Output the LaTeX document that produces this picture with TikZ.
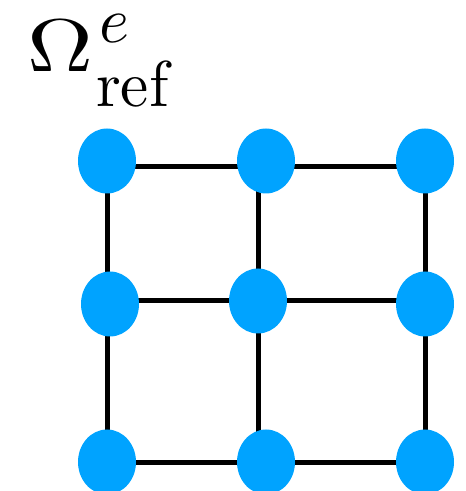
\documentclass[tikz,border=0pt]{standalone}
\usepackage{amsmath}
\usepackage{graphicx}
\usepackage{xcolor}
\usepackage{tikz}
\usetikzlibrary{shapes.geometric}
\definecolor{pblue}{HTML}{00A3FF}
% reference element label, Omega with e over ref
\newcommand{\reflabel}{%
  \resizebox{37.5pt}{29pt}{$\Omega$}\kern1.6pt
  \rlap{\raise16.5pt\hbox{\kern2pt\resizebox{17pt}{15.9pt}{$e$}}}%
  \lower19.9pt\hbox{\resizebox{44pt}{25.6pt}{$\mathrm{ref}$}}}
\tikzset{
  % Nodal point and the element edges between them.
  dof/.style      = {ellipse, fill=pblue, inner sep=0pt,
                     minimum width=1.16cm, minimum height=1.30cm},
  gridline/.style = {line width=0.10cm, black},
  lbl/.style      = {inner sep=0pt},
}

\begin{document}
\begin{tikzpicture}[x=1cm,y=1cm]
\useasboundingbox (0,0) rectangle (9.30,9.82);
% grid corners
\foreach \i/\x in {1/2.14,2/5.16,3/8.50}
  \foreach \j/\y in {1/6.48,2/3.80,3/0.56}
    {\coordinate (g\i\j) at (\x,\y);}
% element edges
\foreach \j in {1,2,3}
  {\draw[gridline] (g1\j) -- (g2\j) -- (g3\j);}
\foreach \i in {1,2,3}
  {\draw[gridline] (g\i1) -- (g\i2) -- (g\i3);}
% nodes
\foreach \n/\x/\y in {n11/2.14/6.60, n21/5.32/6.60, n31/8.50/6.60,
                      n12/2.20/3.74, n22/5.16/3.80, n32/8.50/3.74,
                      n13/2.14/0.58, n23/5.32/0.58, n33/8.50/0.58}
  {\node[dof] (\n) at (\x,\y) {};}
% label
\node[lbl, anchor=base west] (omega) at (0.54,8.38) {\reflabel};
\end{tikzpicture}
\end{document}
